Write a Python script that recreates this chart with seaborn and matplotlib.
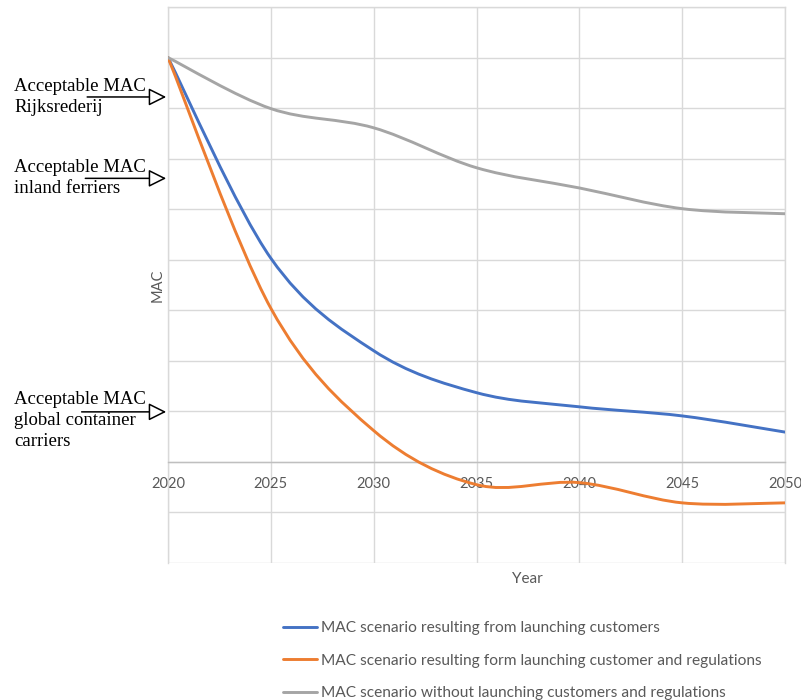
import numpy as np
import matplotlib
matplotlib.use("Agg")
import matplotlib.pyplot as plt
import matplotlib.transforms as mtransforms
from matplotlib.path import Path
from matplotlib.patches import PathPatch
from matplotlib.lines import Line2D
import seaborn as sns

# Data (y in gridline units, 0 = x-axis)
years = [2020, 2025, 2030, 2035, 2040, 2045, 2050]
mac_launching = [8.0, 4.03, 2.2, 1.37, 1.09, 0.91, 0.59]
mac_launching_regs = [8.0, 3.04, 0.62, -0.45, -0.41, -0.81, -0.81]
mac_no_launching = [8.0, 6.99, 6.61, 5.82, 5.42, 5.01, 4.91]

series_labels = [
    "MAC scenario resulting from launching customers",
    "MAC scenario resulting form launching customer and regulations",
    "MAC scenario without launching customers and regulations",
]
series_colors = ["#4472C4", "#ED7D31", "#A5A5A5"]

acceptable_labels = [
    "Acceptable MAC\nRijksrederij",
    "Acceptable MAC\ninland ferriers",
    "Acceptable MAC\nglobal container\ncarriers",
]
acceptable_levels = [7.22, 5.61, 0.99]

sns.set_theme(style="whitegrid")
plt.rcParams["font.family"] = ["Lato", "DejaVu Sans"]

text_grey = "#595959"
grid_grey = "#d9d9d9"


def smooth_path(xs, ys):
    # Excel-like smoothed line: Catmull-Rom curve as cubic Bezier segments
    pts = np.column_stack([xs, ys]).astype(float)
    n = len(pts)
    verts = [pts[0]]
    codes = [Path.MOVETO]
    for i in range(n - 1):
        p_prev = pts[max(i - 1, 0)]
        p0 = pts[i]
        p1 = pts[i + 1]
        p_next = pts[min(i + 2, n - 1)]
        c1 = p0 + (p1 - p_prev) / 6.0
        c2 = p1 - (p_next - p0) / 6.0
        verts += [c1, c2, p1]
        codes += [Path.CURVE4] * 3
    return Path(verts, codes)


fig = plt.figure(figsize=(8.01, 7), dpi=100)
ax = fig.add_axes([168 / 801, 1 - 563 / 700, (785 - 168) / 801, (563 - 7) / 700])
ax.set_facecolor("white")

all_series = [mac_launching, mac_launching_regs, mac_no_launching]
for vals, col in zip(all_series, series_colors):
    ax.add_patch(PathPatch(smooth_path(years, vals), fill=False, edgecolor=col,
                           lw=2.1, zorder=3, capstyle="round"))

ax.set_xlim(2020, 2050)
ax.set_ylim(-2, 9)
ax.set_xticks(years)
ax.set_yticks(range(-2, 10))
ax.set_yticklabels([])
ax.grid(True, color=grid_grey, lw=1)
ax.tick_params(axis="x", length=0, pad=11, labelsize=10.5, labelcolor=text_grey)
ax.tick_params(axis="y", length=0)

for side in ["left", "right", "top"]:
    ax.spines[side].set_color(grid_grey)
    ax.spines[side].set_linewidth(1)
ax.spines["bottom"].set_position(("data", 0))
ax.spines["bottom"].set_color("#bfbfbf")
ax.spines["bottom"].set_linewidth(1)

ax.set_xlabel("Year", fontsize=11, color=text_grey)
ax.xaxis.set_label_coords(0.582, -0.016)
ax.set_ylabel("MAC", fontsize=10.5, color=text_grey)
ax.yaxis.set_label_coords(-0.006, 0.5)

# Acceptable MAC annotations with open arrow heads
blend = mtransforms.blended_transform_factory(ax.transAxes, ax.transData)
text_tops = [78, 159, 391]
starts = [-0.131, -0.134, -0.14]
for lab, lvl, top, x0 in zip(acceptable_labels, acceptable_levels, text_tops, starts):
    ax.annotate("", xy=(-0.003, lvl), xycoords=blend, xytext=(x0, lvl), textcoords=blend,
                arrowprops=dict(arrowstyle="-|>,head_length=0.9,head_width=0.45",
                                fc="white", ec="black", lw=1.1, shrinkA=0, shrinkB=0),
                annotation_clip=False)
    fig.text(14 / 801, 1 - top / 700, lab, ha="left", va="top", fontsize=13.5,
             family="Liberation Serif", color="black", linespacing=1.3)

handles = [Line2D([0], [0], color=c, lw=2.1) for c in series_colors]
leg = fig.legend(handles, series_labels, loc="upper left",
                 bbox_to_anchor=(283 / 801, 1 - 621 / 700), frameon=False,
                 fontsize=11.2, handlelength=2.2, handletextpad=0.25,
                 labelspacing=1.2, borderpad=0, borderaxespad=0)
for t in leg.get_texts():
    t.set_color(text_grey)

fig.savefig("out.png", dpi=100, facecolor="white")
